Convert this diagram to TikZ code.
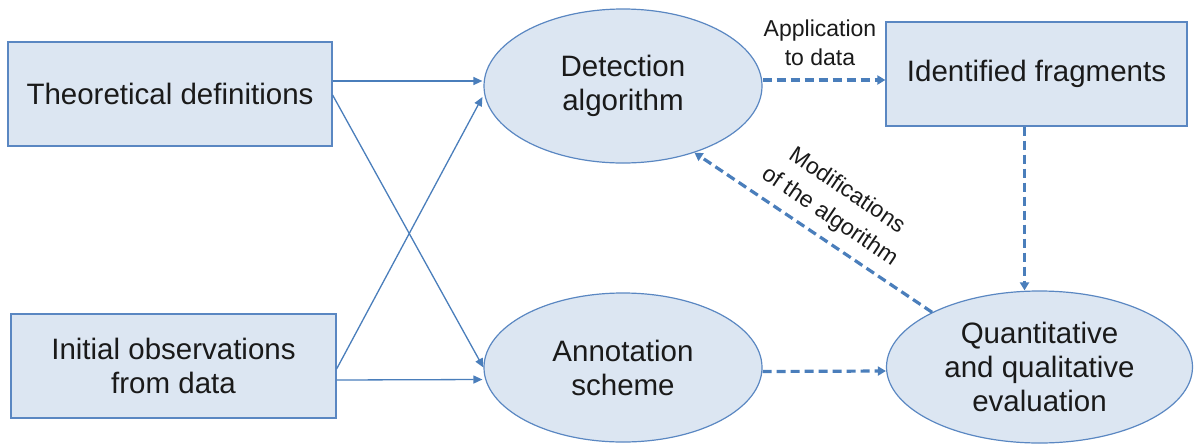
\documentclass[tikz,border=0pt]{standalone}
\usepackage{fontspec}
\setmainfont{Liberation Sans}
\usetikzlibrary{shapes.geometric,arrows.meta,calc}
\definecolor{boxfill}{HTML}{DCE6F2}
\definecolor{boxline}{HTML}{5A87C2}
\definecolor{arr}{HTML}{4A7EBB}
\definecolor{txt}{HTML}{1A1A1A}
\tikzset{
  box/.style={draw=boxline, line width=1.2pt, fill=boxfill, rectangle, inner sep=0pt,
    align=center, text=txt, font=\fontsize{29.5}{34}\selectfont},
  ell/.style={draw=boxline, line width=1.2pt, fill=boxfill, ellipse, inner sep=0pt,
    align=center, text=txt, font=\fontsize{29.5}{34}\selectfont},
  solidarrow/.style={draw=arr, line width=1.3pt, -{Triangle[length=9pt,width=8pt]}},
  dasharrow/.style={draw=arr, line width=3.2pt, dash pattern=on 9pt off 5pt,
    -{Triangle[length=8pt,width=9pt]}},
  lab/.style={align=center, text=txt, font=\fontsize{23}{29}\selectfont, inner sep=0pt}
}
\begin{document}
\begin{tikzpicture}[x=1pt,y=-1pt]
\useasboundingbox (0,0) rectangle (1194,445);
\node[box, minimum width=324pt, minimum height=104pt] (theo) at (170,94) {Theoretical definitions};
\node[box, minimum width=325pt, minimum height=104pt] (init) at (173.5,366) {Initial observations\\from data};
\node[ell, minimum width=278pt, minimum height=154pt] (det) at (623,86) {Detection\\algorithm};
\node[ell, minimum width=278pt, minimum height=149pt] (ann) at (623,367.5) {Annotation\\scheme};
\node[box, minimum width=301pt, minimum height=104pt] (frag) at (1036.5,74) {Identified fragments};
\node[ell, minimum width=306pt, minimum height=152pt] (qual) at (1039.5,367) {Quantitative\\and qualitative\\evaluation};

\draw[solidarrow] ([yshift=13pt]theo.east) -- ([xshift=-1pt,yshift=5pt]det.west);
\draw[solidarrow] ([yshift=-1pt]theo.east) -- (ann.west);
\draw[solidarrow] ([yshift=-3pt]init.east) -- ([xshift=-1pt,yshift=-11pt]det.west);
\draw[solidarrow] ([yshift=-14pt]init.east) -- ([xshift=-1pt,yshift=-12pt]ann.west);

\draw[dasharrow] ([yshift=6pt]det.east) -- ([yshift=-6pt]frag.west);
\draw[dasharrow] ([xshift=-12pt]frag.south) -- ([xshift=-15pt]qual.north);
\draw[dasharrow] ([yshift=-4pt]ann.east) -- ([yshift=-4pt]qual.west);
\draw[dasharrow] (qual.153) -- (det.-43);

\node[lab] (applab) at (820,43) {Application\\to data};
\node[lab, rotate=-34, font=\fontsize{23}{31}\selectfont] (modlab) at (838,204) {Modifications\\of the algorithm};
\end{tikzpicture}
\end{document}
